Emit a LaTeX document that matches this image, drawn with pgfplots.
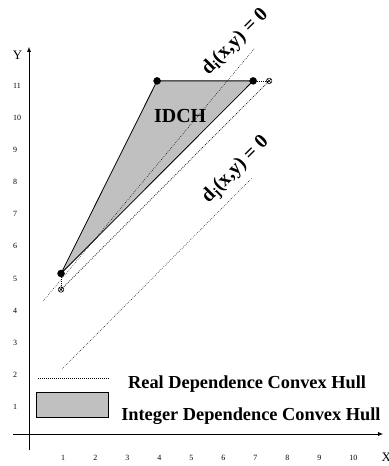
\documentclass[border=0pt]{standalone}
\usepackage{fontspec}
\setmainfont{Liberation Serif}
\usepackage{pgfplots}
\pgfplotsset{compat=1.18}
\usetikzlibrary{arrows.meta}
\definecolor{hullgray}{RGB}{192,192,192}

\begin{document}
\begin{tikzpicture}
\begin{axis}[
 scale only axis, width=370bp, height=403bp,
 xmin=-0.5, xmax=11.06, ymin=-0.5, ymax=12.06,
 axis lines=middle,
 axis line style={line width=0.8bp, -{Latex[length=5bp,width=4bp]}},
 xtick={1,...,10}, ytick={1,...,11},
 major tick length=0pt,
 tick label style={font=\fontsize{8}{9}\selectfont},
 xticklabel style={anchor=base west, inner sep=0pt, xshift=0bp, yshift=-26bp},
 yticklabel style={anchor=west, inner sep=0pt, xshift=-16bp, yshift=-5bp},
 /pgf/number format/assume math mode=true,
 clip=false,
]
% Integer dependence convex hull
\addplot[draw=black, line width=0.8bp, fill=hullgray] coordinates {(1,5) (4,11) (7,11)} -- cycle;
% d_i line
\addplot[black, line width=0.5bp, dash pattern=on 0.7bp off 1.3bp] coordinates {(0.44,4.14) (7.03,12.0)};
% real hull diagonal
\addplot[black, line width=0.7bp, dash pattern=on 0.8bp off 1.2bp] coordinates {(1,4.5) (7.5,11)};
% d_j line
\addplot[black, line width=0.5bp, dash pattern=on 0.7bp off 1.3bp] coordinates {(1.03,2.02) (6.97,7.98)};
% short real hull edges
\addplot[black, line width=0.7bp, dash pattern=on 0.8bp off 1.2bp] coordinates {(1,5) (1,4.5)};
\addplot[black, line width=0.7bp, dash pattern=on 0.8bp off 1.2bp] coordinates {(7,11) (7.5,11)};
% integer vertices
\addplot[only marks, mark=*, mark size=3.5bp, black] coordinates {(1,5) (4,11) (7,11)};
% real vertices
\addplot[only marks, mark=otimes, mark size=2.8bp, black, mark options={fill=white, line width=0.5bp}] coordinates {(1,4.5) (7.5,11)};
% legend samples
\addplot[black, line width=0.7bp, dash pattern=on 0.8bp off 1.2bp] coordinates {(0.28,1.74) (2.5,1.74)};
\addplot[draw=black, line width=0.9bp, fill=hullgray] coordinates {(0.22,0.5) (2.47,0.5) (2.47,1.28) (0.22,1.28)} -- cycle;
% texts
\node[font=\fontsize{18.4}{20}\selectfont\bfseries, anchor=west, inner sep=0pt] at (axis cs:3.09,1.56) {Real Dependence Convex Hull};
\node[font=\fontsize{18.4}{20}\selectfont\bfseries, anchor=west, inner sep=0pt] at (axis cs:2.875,0.56) {Integer Dependence Convex Hull};
\node[font=\fontsize{20}{22}\selectfont\bfseries, inner sep=0pt] at (axis cs:4.72,9.9) {IDCH};
\node[rotate=45, font=\fontsize{20}{22}\selectfont\bfseries, inner sep=0pt] at (axis cs:6.44,12.21) {d\textsubscript{i}(x,y) = 0};
\node[rotate=45, font=\fontsize{20}{22}\selectfont\bfseries, inner sep=0pt] at (axis cs:6.47,8.22) {d\textsubscript{j}(x,y) = 0};
\node[font=\fontsize{13}{14}\selectfont, inner sep=0pt] at (axis cs:-0.36,11.8) {Y};
\node[font=\fontsize{13}{14}\selectfont, inner sep=0pt] at (axis cs:11.16,-0.72) {X};
\coordinate (bbl) at (axis cs:-0.906,-0.997);
\coordinate (btr) at (axis cs:11.22,13.52);
\end{axis}
\pgfresetboundingbox
\path[use as bounding box] (bbl) rectangle (btr);
\end{tikzpicture}
\end{document}
